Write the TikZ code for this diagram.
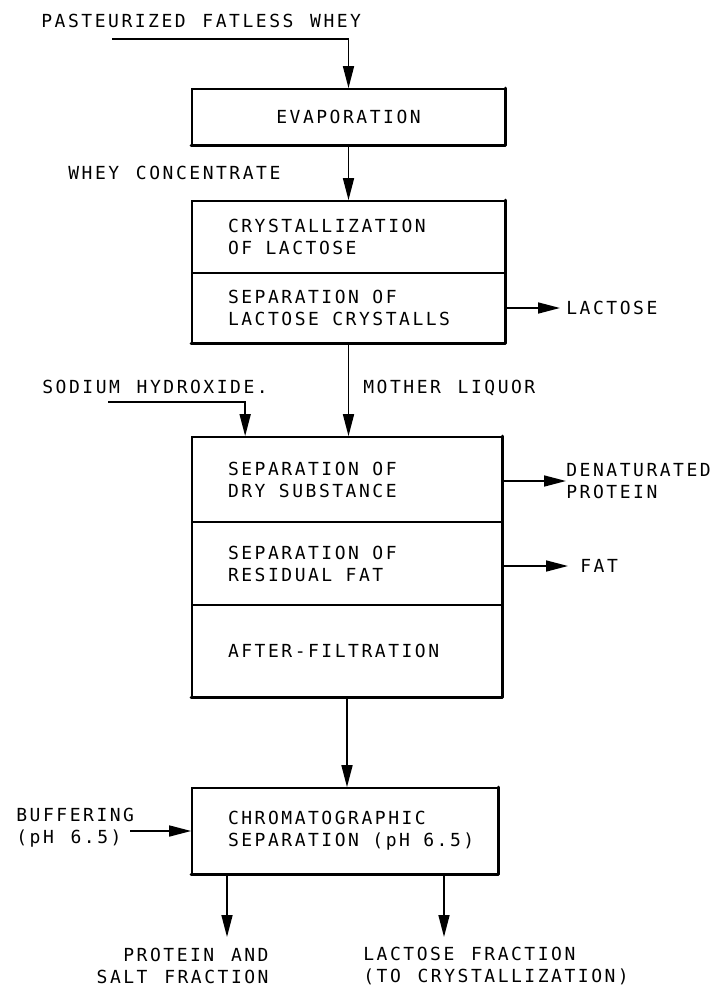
\documentclass[tikz,border=0pt]{standalone}
\usepackage{fontspec}
\usetikzlibrary{arrows.meta}
\newfontfamily\twfont[LetterSpace=14,WordSpace=1.25]{DejaVu Sans Mono}
\newcommand\lab{\twfont\fontsize{9pt}{11pt}\selectfont}
\tikzset{
  txt/.style={font=\lab, inner sep=0pt, align=left},
  sec/.style={draw, line width=0.85pt, inner xsep=18pt, inner ysep=0pt, align=left, font=\lab,
    execute at begin node={\spaceskip=6.7pt\relax\xspaceskip=6.7pt\relax}},
  arr/.style={-{Triangle[length=11pt,width=5.5pt]}, line width=0.8pt},
  heavy/.style={line width=1.5pt, line cap=round, line join=round}
}
\begin{document}
\begin{tikzpicture}[x=0.5pt,y=-0.5pt]
\useasboundingbox (0,0) rectangle (713,990);
% boxes
\node[sec, align=center, minimum width=156.5pt, minimum height=28pt, text width=120.5pt] (b1) at (348.5,117) {EVAPORATION};
\node[sec, minimum width=156.5pt, minimum height=36pt, text width=120.5pt] (b2a) at (348.5,237) {CRYSTALLIZATION\\OF LACTOSE};
\node[sec, minimum width=156.5pt, minimum height=35pt, text width=120.5pt] (b2b) at (348.5,308) {SEPARATION OF\\LACTOSE CRYSTALLS};
\node[sec, minimum width=155pt, minimum height=42.5pt, text width=119pt] (b3a) at (347,479.5) {SEPARATION OF\\DRY SUBSTANCE};
\node[sec, minimum width=155pt, minimum height=41.5pt, text width=119pt] (b3b) at (347,563.5) {SEPARATION OF\\RESIDUAL FAT};
\node[sec, minimum width=155pt, minimum height=46pt, text width=119pt] (b3c) at (347,651) {AFTER-FILTRATION};
\node[sec, minimum width=153pt, minimum height=43pt, text width=117pt] (b4) at (345,831) {CHROMATOGRAPHIC\\SEPARATION~(pH~6.5)};
% heavy bottom/right edges
\draw[heavy] (b1.north east) -- (b1.south east) -- (b1.south west);
\draw[heavy] (b2a.north east) -- (b2b.south east) -- (b2b.south west);
\draw[heavy] (b3a.north east) -- (b3c.south east) -- (b3c.south west);
\draw[heavy] (b4.north east) -- (b4.south east) -- (b4.south west);
% labels
\node[txt, anchor=west] (pfw) at (41,21) {PASTEURIZED FATLESS WHEY};
\node[txt, anchor=west] (wc) at (68,173) {WHEY CONCENTRATE};
\node[txt, anchor=west] (lac) at (566,308) {LACTOSE};
\node[txt, anchor=west] (naoh) at (42,387) {SODIUM HYDROXIDE.};
\node[txt, anchor=west] (ml) at (363,388) {MOTHER LIQUOR};
\node[txt, anchor=west] (den) at (566,481) {DENATURATED\\PROTEIN};
\node[txt, anchor=west] (fat) at (580,566) {FAT};
\node[txt, anchor=west] (buf) at (16,828) {BUFFERING\\(pH 6.5)};
\node[txt, anchor=east, align=right] (prot) at (269,966) {PROTEIN AND\\SALT FRACTION};
\node[txt, anchor=west] (lacf) at (363,966) {LACTOSE FRACTION\\(TO CRYSTALLIZATION)};
% connector end points
\coordinate (pfws) at (112,39);
\coordinate (naohs) at (108,402);
\coordinate (bufs) at (130,831);
\coordinate (pout) at (227,937);
\coordinate (lout) at (444,937);
% connectors
\draw[arr] (pfws) -| (b1);
\draw[arr] (b1) -- (b2a);
\draw[arr] (b2b.east) -- ([xshift=-3pt]lac.west);
\draw[arr] (b2b.south) -- (b2b.south |- b3a.north);
\draw[arr] (naohs) -| ([xshift=27pt]b3a.north west);
\draw[arr] (b3a.east |- den.west) -- (den.west);
\draw[arr] (b3b.east |- fat.west) -- ([xshift=-6pt]fat.west);
\draw[arr] (b3c.south) -- (b3c.south |- b4.north);
\draw[arr] (bufs) -- (b4.west);
\draw[arr] (b4.south -| pout) -- (pout);
\draw[arr] (b4.south -| lout) -- (lout);
\end{tikzpicture}
\end{document}
